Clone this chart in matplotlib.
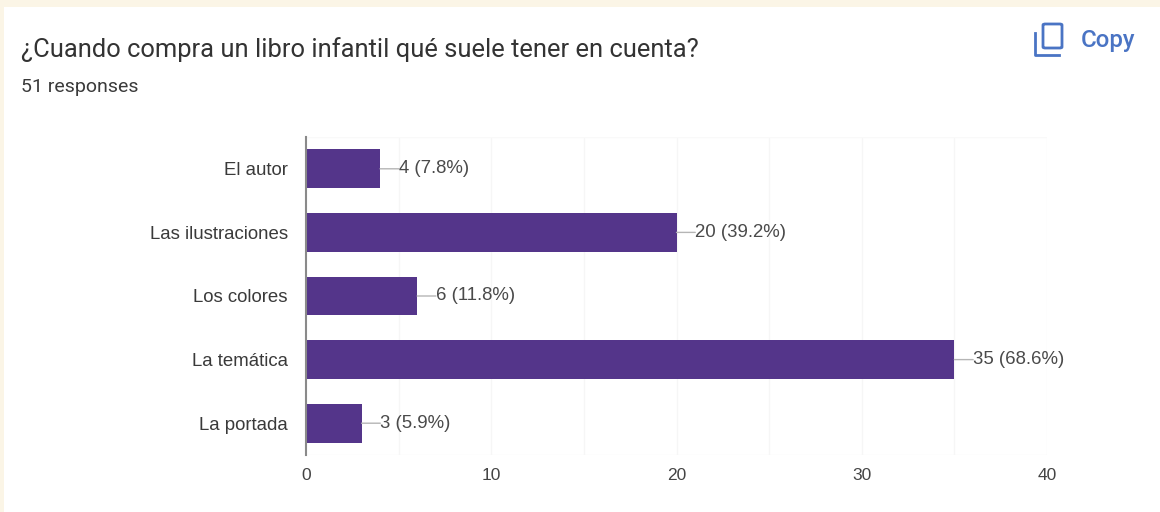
import matplotlib
matplotlib.use("Agg")
import matplotlib.pyplot as plt
from matplotlib.patches import FancyBboxPatch, Rectangle
from matplotlib.lines import Line2D

# datos
categorias = ["El autor", "Las ilustraciones", "Los colores", "La temática", "La portada"]
valores = [4, 20, 6, 35, 3]
etiquetas = ["4 (7.8%)", "20 (39.2%)", "6 (11.8%)", "35 (68.6%)", "3 (5.9%)"]
ticks_x = [0, 10, 20, 30, 40]
grid_x = [5, 10, 15, 20, 25, 30, 35, 40]

W, H = 1160, 512
fig = plt.figure(figsize=(W / 100, H / 100), dpi=100, facecolor="#fbf5e6")

# panel blanco detras del grafico
fig.add_artist(Rectangle((4 / W, 0), (W - 4) / W, 1 - 7 / H, transform=fig.transFigure,
                         facecolor="white", edgecolor="none", zorder=-1))

ax = fig.add_axes([306 / W, 1 - 455 / H, 741 / W, 318 / H])
ax.patch.set_alpha(0)
y = list(range(len(categorias)))
ax.barh(y, valores, height=0.61, color="#54358a", zorder=3)
ax.set_xlim(0, 40)
ax.set_ylim(4.5, -0.5)

for v in grid_x:
    ax.axvline(v, color="#f6f6f6", lw=1, zorder=1)
ax.axhline(4.5, color="#f6f6f6", lw=1, zorder=1)
ax.axhline(-0.5, color="#f9f9f9", lw=1, zorder=1)

for s in ["top", "right", "bottom"]:
    ax.spines[s].set_visible(False)
ax.spines["left"].set_color("#8a8a8a")
ax.spines["left"].set_linewidth(1.5)
ax.spines["left"].set_zorder(4)

ax.set_yticks(y, categorias, fontfamily="Liberation Sans", fontsize=13.4, color="#3a3a3a")
ax.set_xticks(ticks_x, [str(t) for t in ticks_x], fontfamily="Liberation Sans",
              fontsize=12.5, color="#444444")
ax.tick_params(axis="both", length=0)
ax.tick_params(axis="y", pad=13)
ax.tick_params(axis="x", pad=9.5)

# etiquetas con linea guia
for yi, v, et in zip(y, valores, etiquetas):
    ax.annotate(et, xy=(v, yi), xytext=(13.5, 0), textcoords="offset points",
                va="center", ha="left", fontfamily="Liberation Sans", fontsize=13.4,
                color="#4a4a4a", annotation_clip=False,
                arrowprops=dict(arrowstyle="-", color="#b5b5b5", lw=1, shrinkA=0, shrinkB=0,
                                patchA=None, relpos=(0, 0.5)))

fig.text(21 / W, 1 - 50 / H, "¿Cuando compra un libro infantil qué suele tener en cuenta?",
         fontfamily="Roboto", fontsize=18.4, color="#333333", va="center", ha="left")
fig.text(21 / W, 1 - 87 / H, "51 responses", fontfamily="Roboto", fontsize=14,
         color="#3a3a3a", va="center", ha="left")

# boton Copy
azul = "#4a74c4"
fig.text(1081 / W, 1 - 40 / H, "Copy", fontfamily="Roboto", fontsize=17.3, fontweight="medium",
         color=azul, va="center", ha="left")
fig.add_artist(FancyBboxPatch((1043 / W, 1 - 48 / H), 19 / W, 24 / H, transform=fig.transFigure,
                              boxstyle="round,pad=0,rounding_size=0.002", facecolor="none",
                              edgecolor=azul, lw=2))
fig.add_artist(Line2D([1035 / W, 1035 / W, 1059 / W], [1 - 33 / H, 1 - 55 / H, 1 - 55 / H],
                      transform=fig.transFigure, color=azul, lw=2))

fig.savefig("out.png", dpi=100, facecolor=fig.get_facecolor())
